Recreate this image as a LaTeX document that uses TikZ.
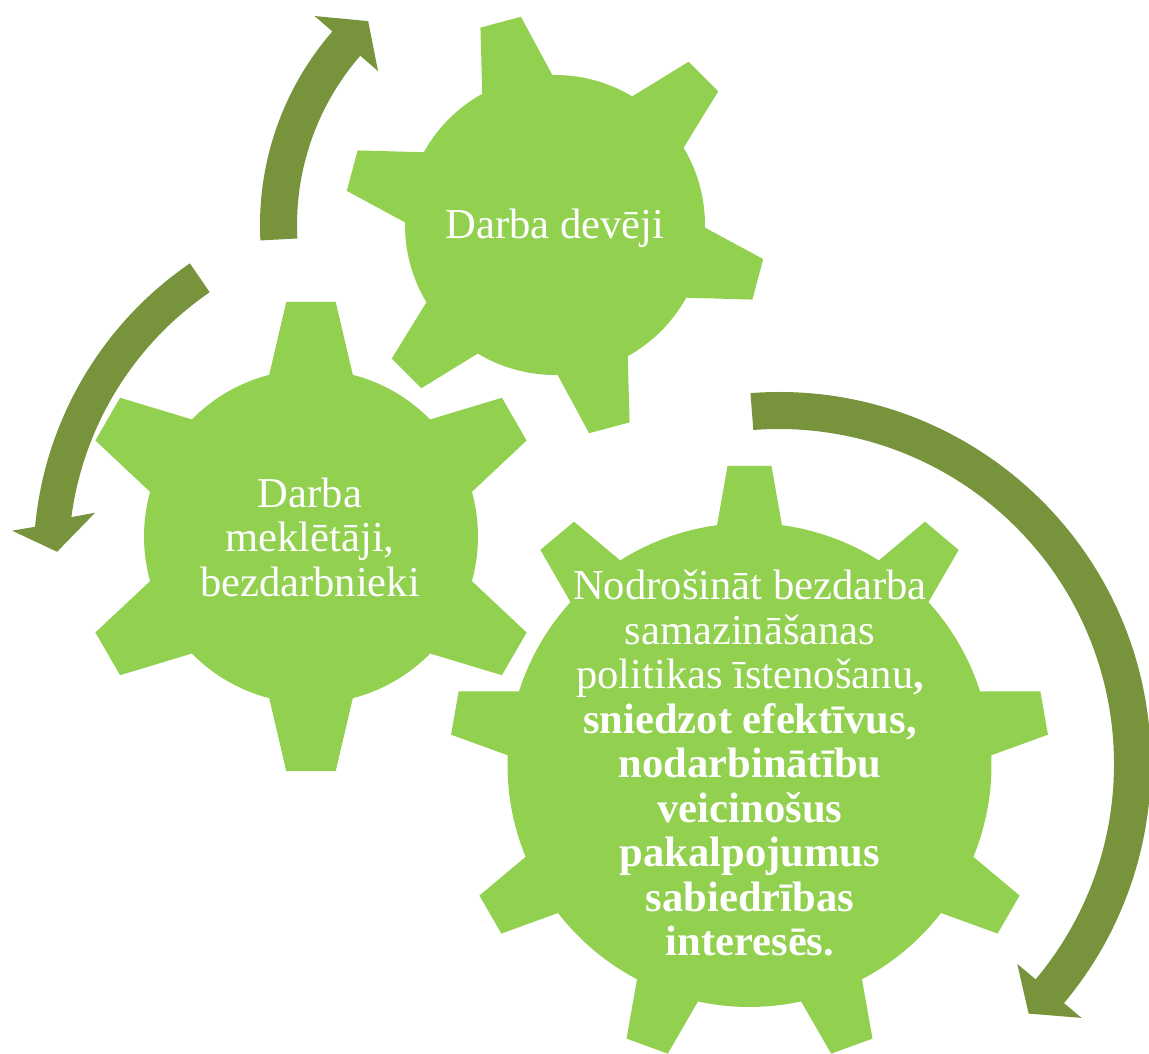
\documentclass[tikz,border=0pt]{standalone}
\usepackage{fontspec}
\setmainfont{Liberation Serif}
\definecolor{gearGreen}{HTML}{92D050}
\definecolor{turnGreen}{HTML}{77933C}

\begin{document}
\begin{tikzpicture}[x=1pt, y=1pt,
  cog/.style={fill=gearGreen},
  turn/.style={fill=turnGreen},
  cogtext/.style={text=white, align=center, inner sep=0pt, font=\fontsize{42.6}{44.5}\selectfont}]
\useasboundingbox (0,0) rectangle (1149,1054);

\coordinate (g1) at (555,829);
\coordinate (g2) at (311,517.5);
\coordinate (g3) at (749.5,289);
\coordinate (t2) at (393,494);
\coordinate (t3) at (779,290);

\fill [turn, shift={(g1)}] (183:295) arc [start angle=183, end angle=139, radius=295]
  -- (139:318.5) -- (132.5:276.5) -- (139:234.5) -- (139:258)
  arc [start angle=139, end angle=183, radius=258] -- cycle;
\fill [turn, shift={(t2)}] (124.4:359.5) arc [start angle=124.4, end angle=174.7, radius=359.5]
  -- (175.6:382) -- (178.6:336) -- (171:301.7) -- (172.4:324.5)
  arc [start angle=172.4, end angle=124.4, radius=324.5] -- cycle;
\fill [turn, shift={(t3)}] (94.4:372) arc [start angle=94.4, end angle=-40, radius=372]
  -- (-40:395) -- (-45:353) -- (-40:311) -- (-40:335)
  arc [start angle=-40, end angle=94.4, radius=335] -- cycle;

\fill [cog, shift={(g1)}] (91:150) \foreach \a in {105,165,...,405} {
  -- ({\a-5.7}:211) -- ({\a+5.7}:211) -- ({\a+14}:150)
  arc [start angle={\a+14}, end angle={\a+46}, radius=150] } -- cycle;
\fill [cog, shift={(g2)}] (15.5:167) \foreach \a in {30,90,...,330} {
  -- ({\a-6}:236) -- ({\a+6}:236) -- ({\a+14.5}:167)
  arc [start angle={\a+14.5}, end angle={\a+45.5}, radius=167] } -- cycle;
\fill [cog, shift={(g3)}] (2.3:242) \foreach \a in {10,50,...,330} {
  -- ({\a-4.2}:300) -- ({\a+4.2}:300) -- ({\a+7.7}:242)
  arc [start angle={\a+7.7}, end angle={\a+32.3}, radius=242] } -- cycle;

\node [cogtext] (devej) at (555,826) {Darba devēji};
\node [cogtext] (meklet) at (310,517) {Darba\\meklētāji,\\bezdarbnieki};
\node [cogtext] (nodros) at (750,291) {Nodrošināt bezdarba\\samazināšanas\\politikas īstenošanu\textbf{,}\\
  \textbf{sniedzot efektīvus,}\\\textbf{nodarbinātību}\\\textbf{veicinošus}\\\textbf{pakalpojumus}\\
  \textbf{sabiedrības}\\\textbf{interesēs.}};
\end{tikzpicture}
\end{document}
